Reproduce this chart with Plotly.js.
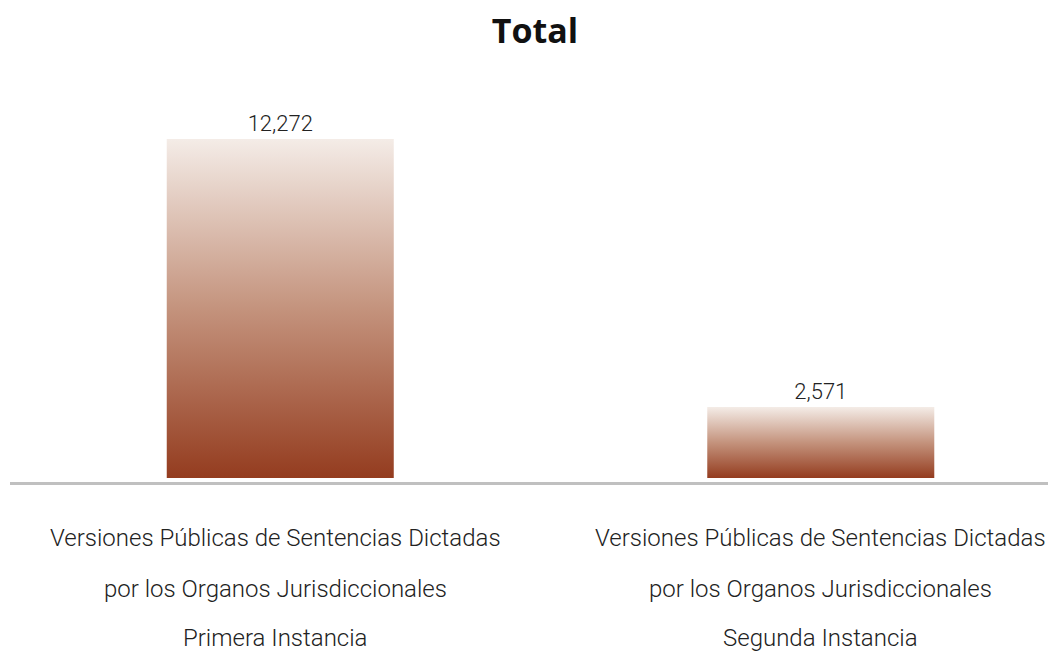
<!DOCTYPE html>
<html>
<head>
<meta charset="utf-8">
<script src="https://cdn.plot.ly/plotly-3.0.1.min.js"></script>
<style>
  html, body { margin: 0; padding: 0; background: #ffffff; }
  #chart { width: 1048px; height: 656px; }
</style>
</head>
<body>
<div id="chart"></div>
<script>
// ---- Data ----
var categories = ['Primera Instancia', 'Segunda Instancia'];
var values = [12272, 2571];
var labelLines = [
  ['Versiones Públicas de Sentencias Dictadas', 'por los Organos Jurisdiccionales', 'Primera Instancia'],
  ['Versiones Públicas de Sentencias Dictadas', 'por los Organos Jurisdiccionales', 'Segunda Instancia']
];
var chartTitle = 'Total';

// ---- Build ----
var textFont = 'Roboto, "Noto Sans", sans-serif';

var trace = {
  type: 'bar',
  x: categories,
  y: values,
  width: 0.42,
  marker: { color: '#c4937d', line: { width: 0 } },
  texttemplate: '%{y:,}',
  textposition: 'outside',
  textfont: { family: textFont, size: 22, color: '#222222', weight: 300 },
  cliponaxis: false,
  hoverinfo: 'skip'
};

var annotations = [];
var lineShifts = [-56, -107, -156];
var colShifts = [-5, 0];
categories.forEach(function (cat, i) {
  labelLines[i].forEach(function (line, j) {
    annotations.push({
      x: cat, xref: 'x',
      y: 0, yref: 'paper',
      yanchor: 'middle', xanchor: 'center',
      xshift: colShifts[i],
      yshift: lineShifts[j],
      showarrow: false,
      text: line,
      font: { family: textFont, size: 24, color: '#222222', weight: 300 }
    });
  });
});

var layout = {
  width: 1048,
  height: 656,
  paper_bgcolor: '#ffffff',
  plot_bgcolor: '#ffffff',
  margin: { l: 10, r: 0, t: 100, b: 174 },
  title: {
    text: '<b>' + chartTitle + '</b>',
    font: { family: '"Open Sans", sans-serif', size: 34, color: '#111111' },
    x: 0.5105, xref: 'container', xanchor: 'center',
    y: 0.953, yref: 'container', yanchor: 'middle'
  },
  xaxis: {
    type: 'category',
    range: [-0.5, 1.4204],
    showticklabels: false,
    ticks: '',
    showgrid: false,
    zeroline: false,
    showline: true,
    linecolor: '#c0c0c0',
    linewidth: 3,
    fixedrange: true
  },
  yaxis: {
    range: [-145, 13684],
    visible: false,
    showgrid: false,
    zeroline: false,
    fixedrange: true
  },
  showlegend: false,
  annotations: annotations
};

Plotly.newPlot('chart', [trace], layout, { displayModeBar: false, staticPlot: true }).then(function (gd) {
  var svgNS = 'http://www.w3.org/2000/svg';
  var svg = gd.querySelector('.main-svg');
  var defs = svg.querySelector('defs');
  if (!defs) { defs = document.createElementNS(svgNS, 'defs'); svg.insertBefore(defs, svg.firstChild); }
  var grad = document.createElementNS(svgNS, 'linearGradient');
  grad.setAttribute('id', 'barGradient');
  grad.setAttribute('x1', '0'); grad.setAttribute('y1', '0');
  grad.setAttribute('x2', '0'); grad.setAttribute('y2', '1');
  [['0', '#f4ece7'], ['0.5', '#c4937d'], ['1', '#943c1f']].forEach(function (s) {
    var stop = document.createElementNS(svgNS, 'stop');
    stop.setAttribute('offset', s[0]);
    stop.setAttribute('stop-color', s[1]);
    grad.appendChild(stop);
  });
  defs.appendChild(grad);
  gd.querySelectorAll('.bars .point path').forEach(function (p) {
    p.style.fill = 'url(#barGradient)';
  });
});
</script>
</body>
</html>
